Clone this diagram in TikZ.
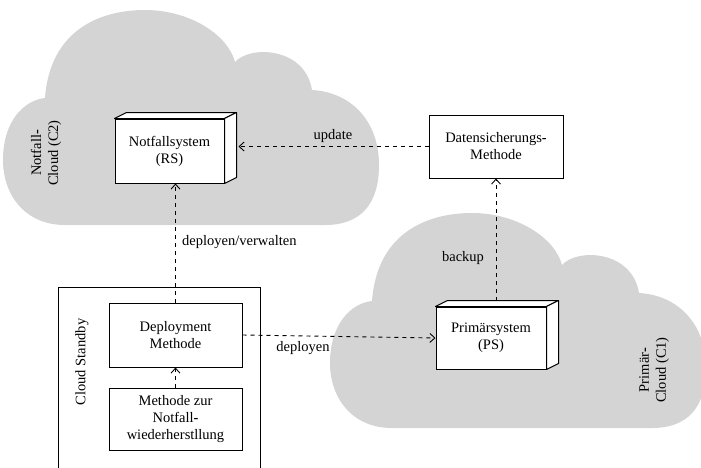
\documentclass[tikz,border=0pt]{standalone}
\usepackage{fontspec}
\setmainfont{Liberation Serif}
\usetikzlibrary{arrows.meta,positioning}
\definecolor{cloudgray}{RGB}{212,212,212}
\newcommand{\bhy}{\textbf{-}}

\tikzset{
  cloudblob/.pic={
    \fill[cloudgray] (45,98) .. controls (50,30) and (100,10) .. (145,10)
      .. controls (190,10) and (228,35) .. (235,62)
      .. controls (250,45) and (305,47) .. (312,90)
      .. controls (350,92) and (379,120) .. (379,165)
      .. controls (379,205) and (360,225) .. (325,225) -- (65,225)
      .. controls (25,225) and (3,195) .. (3,160)
      .. controls (3,120) and (25,100) .. (45,98) -- cycle;
  },
  box/.style={draw,line width=1pt,fill=white,align=center,inner sep=0pt},
  flow/.style={line width=0.9pt,dash pattern=on 4pt off 4pt,-{Straight Barb[length=5pt,width=9pt]}},
  lbl/.style={inner sep=1pt}
}

\begin{document}
\begin{tikzpicture}[x=1pt,y=-1pt,font=\fontsize{14.5}{17}\selectfont]
    \useasboundingbox (0,0) rectangle (701,467);
    \clip (0,0) rectangle (701,467);
    % clouds
    \pic at (0,0) {cloudblob};
    \pic at (327,203) {cloudblob};
    \node[rotate=90,align=center] (c2) at (46,153) {Notfall\bhy\\Cloud (C2)};
    \node[rotate=90,align=center] (c1) at (654,370) {Primär\bhy\\Cloud (C1)};
    % standby
    \node[draw,line width=1pt,minimum width=202,minimum height=200,anchor=north west] (standby) at (58,287) {};
    \node[rotate=90] (standbylbl) at (82,362) {Cloud Standby};
    % boxes
    \node[box,minimum width=109,minimum height=64] (rs) at (169.5,151) {Notfallsystem\\(RS)};
    \node[box,minimum width=134,minimum height=63] (dsm) at (496,146.5) {Datensicherungs\bhy\\Methode};
    \node[box,minimum width=110,minimum height=62] (ps) at (491,338) {Primärsystem\\(PS)};
    \node[box,minimum width=133,minimum height=64] (dep) at (175.5,335) {Deployment\\Methode};
    \node[box,minimum width=133,minimum height=62] (mzn) at (175.5,419) {Methode zur\\Notfall\bhy\\wiederherstllung};
    \foreach \n in {rs,ps}{
      \draw[line width=1pt,fill=white,line join=round] (\n.north west) -- ++(12,-6)
        -- ([shift={(12,-6)}]\n.north east) -- (\n.north east) -- cycle;
      \draw[line width=1pt,fill=white,line join=round] (\n.north east) -- ++(12,-6)
        -- ([shift={(12,-6)}]\n.south east) -- (\n.south east) -- cycle;
      \coordinate (\n-top) at ([shift={(0,-6)}]\n.north);
      \coordinate (\n-side) at ([shift={(14,0)}]\n.east);
    }
    % connectors
    \draw[flow] (dsm.west) -- (dsm.west -| rs-side);
    \draw[flow] (ps-top -| dsm.south) -- (dsm.south);
    \draw[flow] (dep.north) -- (dep.north |- rs.south);
    \draw[flow] (dep.east) -- (ps.west);
    \draw[flow] (mzn.north) -- (dep.south);
    \node[lbl] (l-update) at (333,136) {update};
    \node[lbl] (l-backup) at (463,258) {backup};
    \node[lbl,anchor=west] (l-verw) at (181,242) {deployen/verwalten};
    \node[lbl] (l-deploy) at (303,348) {deployen};
\end{tikzpicture}
\end{document}
